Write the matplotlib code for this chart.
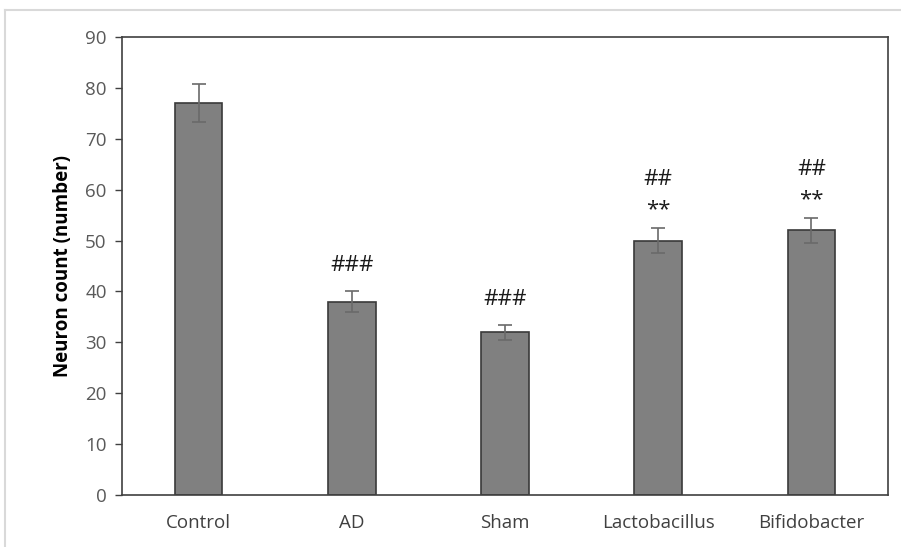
import matplotlib
matplotlib.use("Agg")
import matplotlib.pyplot as plt
from matplotlib.lines import Line2D

groups = ["Control", "AD", "Sham", "Lactobacillus", "Bifidobacter"]
neuron_count = [77, 38, 32, 50, 52]
neuron_err = [3.8, 2.0, 1.5, 2.5, 2.5]
marks_hash = ["", "###", "###", "##", "##"]
marks_star = ["", "", "", "**", "**"]

plt.rcParams["font.family"] = ["Open Sans", "DejaVu Sans"]

fig = plt.figure(figsize=(9.01, 5.47), dpi=100)
ax = fig.add_axes([0.1354, 0.0951, 0.8502, 0.8373])

x = range(len(groups))
ax.bar(x, neuron_count, width=0.31, color="#808080", edgecolor="#3a3a3a",
       linewidth=1.2, zorder=2)
ax.errorbar(x, neuron_count, yerr=neuron_err, fmt="none", ecolor="#6a6a6a",
            elinewidth=1.2, capsize=5, capthick=1.2, zorder=3)

for i in x:
    top = neuron_count[i] + neuron_err[i]
    if marks_star[i]:
        ax.text(i, top + 3.5, marks_star[i], ha="center", va="center",
                fontsize=16, color="#1a1a1a")
        ax.text(i, top + 9.5, marks_hash[i], ha="center", va="center",
                fontsize=16, color="#1a1a1a")
    elif marks_hash[i]:
        ax.text(i, top + 5, marks_hash[i], ha="center", va="center",
                fontsize=16, color="#1a1a1a")

ax.set_xlim(-0.5, len(groups) - 0.5)
ax.set_ylim(0, 90)
ax.set_yticks(range(0, 91, 10))
ax.set_xticks(list(x))
ax.set_xticklabels(groups)
ax.tick_params(axis="x", length=0, pad=14, labelsize=13.5, colors="#404040")
ax.tick_params(axis="y", length=5, width=1, pad=6, labelsize=13.5,
               colors="#595959")
ax.tick_params(axis="y", color="#404040")
for sp in ax.spines.values():
    sp.set_color("#404040")
    sp.set_linewidth(1.2)
ax.set_ylabel("Neuron count (number)", fontsize=13.5, fontweight="bold",
              color="#000000", labelpad=9)

# light outer frame of the original figure
fig.add_artist(Line2D([0.006, 1.0], [0.982, 0.982], color="#d9d9d9", lw=1.5))
fig.add_artist(Line2D([0.006, 0.006], [0.0, 0.982], color="#d9d9d9", lw=1.5))

fig.savefig("out.png", dpi=100)
